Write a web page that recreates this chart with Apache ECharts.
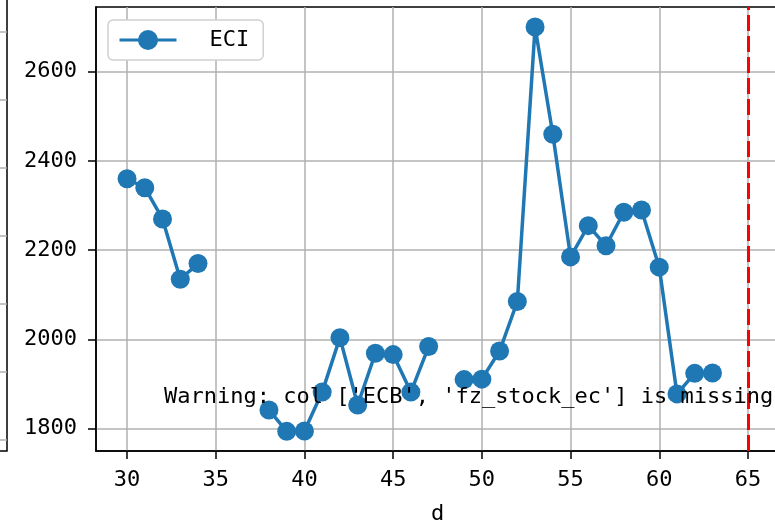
<!DOCTYPE html>
<html>
<head>
<meta charset="utf-8">
<script src="https://cdn.jsdelivr.net/npm/echarts@6/dist/echarts.min.js"></script>
<style>html,body{margin:0;padding:0;background:#fff}#c{width:775px;height:522px}</style>
</head>
<body>
<div id="c"></div>
<script>
const days = [30,31,32,33,34,35,36,37,38,39,40,41,42,43,44,45,46,47,48,49,50,51,52,53,54,55,56,57,58,59,60,61,62,63];
const eci = [2360,2340,2270,2135,2170,null,null,null,1842,1794,1795,1882,2004,1853,1969,1966,1882,1984,null,1910,1911,1974,2085,2700,2460,2185,2255,2210,2285,2290,2162,1878,1924,1925];
const xTicks = [30,35,40,45,50,55,60,65];
const yTicks = [1800,2000,2200,2400,2600];
const cutoffDay = 65;
const seriesName = 'ECI';
const warningText = "Warning: col ['ECB', 'fz_stock_ec'] is missing";
const xName = 'd';
const leftPanelTicks = [0,1,2,3,4,5,6];

const FONT = '"DejaVu Sans Mono", monospace';
const chart = echarts.init(document.getElementById('c'), null, {renderer:'canvas'});
const gridColor = '#b0b0b0';
const plain = v => String(v);
chart.setOption({
  animation:false,
  backgroundColor:'#fff',
  grid:[
    {left:96, top:7, width:683, height:444, show:true, borderColor:'#000', borderWidth:1.5, containLabel:false, outerBoundsMode:'none'},
    {left:-100, width:107, top:-2, height:453, show:true, borderColor:'#000', borderWidth:1.5, containLabel:false, outerBoundsMode:'none'}
  ],
  legend:{
    data:[seriesName], left:108, top:20, padding:[9,14,9,10],
    itemWidth:57, itemHeight:25,
    lineStyle:{width:3},
    backgroundColor:'#fff', borderColor:'#d0d0d0', borderWidth:1.5, borderRadius:5,
    textStyle:{fontFamily:FONT, fontSize:22, color:'#000', padding:[0,0,0,28]}
  },
  xAxis:[
    {type:'value', gridIndex:0, min:28.25, max:66.75,
     name:xName, nameLocation:'middle', nameGap:52, nameTextStyle:{fontFamily:FONT, fontSize:22, color:'#000'},
     axisLine:{show:true, lineStyle:{color:'#000', width:1.5}},
     axisTick:{show:true, length:8, lineStyle:{color:'#000', width:1.5}, customValues:xTicks},
     axisLabel:{fontFamily:FONT, fontSize:22, color:'#000', margin:18, customValues:xTicks, formatter:plain},
     splitLine:{show:true, lineStyle:{color:gridColor, width:1.5}}},
    {type:'value', gridIndex:1, min:0, max:1, show:false}
  ],
  yAxis:[
    {type:'value', gridIndex:0, min:1750, max:2745,
     axisLine:{show:true, lineStyle:{color:'#000', width:1.5}},
     axisTick:{show:true, length:8, lineStyle:{color:'#000', width:1.5}, customValues:yTicks},
     axisLabel:{fontFamily:FONT, fontSize:22, color:'#000', margin:19, customValues:yTicks, formatter:plain},
     splitLine:{show:true, lineStyle:{color:gridColor, width:1.5}}},
    {type:'value', gridIndex:1, min:-0.16, max:6.5,
     axisLine:{show:false}, axisLabel:{show:false},
     axisTick:{show:false, customValues:leftPanelTicks},
     splitLine:{show:true, lineStyle:{color:gridColor, width:1.5}}}
  ],
  series:[{
    name:seriesName, type:'line', xAxisIndex:0, yAxisIndex:0,
    data: days.map((d,i)=>[d, eci[i]]),
    connectNulls:false,
    symbol:'circle', symbolSize:19, showSymbol:true,
    lineStyle:{color:'#1f77b4', width:3.5},
    itemStyle:{color:'#1f77b4'},
    markLine:{
      silent:true, symbol:['none','none'], label:{show:false},
      lineStyle:{color:'#ff0000', width:3, type:[16,5]},
      data:[{xAxis:cutoffDay}]
    }
  }],
  graphic:[{
    type:'text', left:164, top:386, z:100,
    style:{text:warningText, font:'22px '+FONT, fill:'#000'}
  }]
});
</script>
</body>
</html>
